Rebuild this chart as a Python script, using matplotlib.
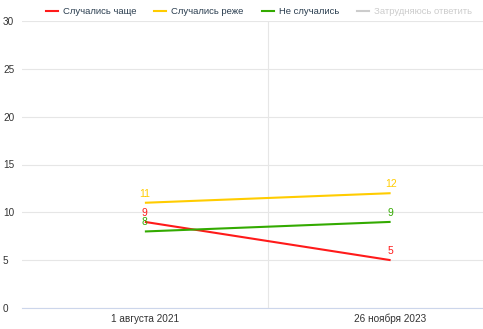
import matplotlib
matplotlib.use("Agg")
import matplotlib.pyplot as plt
from matplotlib.lines import Line2D

plt.rcParams["font.family"] = ["Liberation Sans", "DejaVu Sans"]

categories = ["1 августа 2021", "26 ноября 2023"]
series_names = ["Случались чаще", "Случались реже", "Не случались", "Затрудняюсь ответить"]
more_often = [9, 5]
less_often = [11, 12]
never = [8, 9]
colors = ["#ff1a1a", "#ffcc00", "#33aa00", "#cccccc"]
y_ticks = [0, 5, 10, 15, 20, 25, 30]

W, H = 483, 329
fig = plt.figure(figsize=(W / 100, H / 100), dpi=100)
left, right_px, top, bottom = 22, 513.5, 21, 308
ax = fig.add_axes([left / W, 1 - bottom / H, (right_px - left) / W, (bottom - top) / H])

x = list(range(len(categories)))
for vals, c in zip([more_often, less_often, never], colors[:3]):
    ax.plot(x, vals, color=c, lw=1.5, solid_capstyle="butt", zorder=3)
    for xi, v in zip(x, vals):
        ax.annotate(str(v), (xi, v), xytext=(0, 3), textcoords="offset points",
                    ha="center", va="bottom", color=c, fontsize=7.5, zorder=4)

ax.set_xlim(-0.5, 1.5)
ax.set_ylim(0, 30)
ax.set_yticks(y_ticks)
ax.set_yticklabels([str(t) for t in y_ticks])
ax.set_xticks(x)
ax.set_xticklabels(categories)
ax.tick_params(axis="y", length=0, pad=13.7, labelsize=7.2, labelcolor="#333333")
ax.tick_params(axis="x", length=0, pad=4, labelsize=7.2, labelcolor="#333333")
for t in ax.get_yticklabels():
    t.set_horizontalalignment("left")
ax.grid(axis="y", color="#e6e6e6", lw=0.8, zorder=0)
ax.axvline(0.5, color="#e6e6e6", lw=0.8, zorder=0)
for s in ["top", "right", "left"]:
    ax.spines[s].set_visible(False)
ax.spines["bottom"].set_color("#ccd6eb")
ax.spines["bottom"].set_linewidth(0.8)

handles = [Line2D([0], [0], color=c, lw=1.5) for c in colors]
leg = fig.legend(handles, series_names, loc="center", bbox_to_anchor=(259 / W, 1 - 12 / H),
                 ncol=4, frameon=False, fontsize=6.8, handlelength=1.27, handletextpad=0.53,
                 columnspacing=1.9, borderpad=0, borderaxespad=0)
for i, t in enumerate(leg.get_texts()):
    t.set_color("#cccccc" if i == 3 else "#2b3e50")

fig.savefig("out.png", dpi=100)
